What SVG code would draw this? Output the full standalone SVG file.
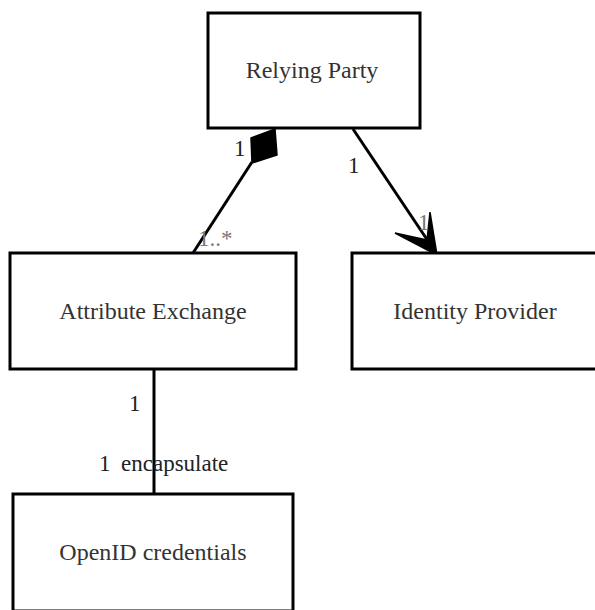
<svg xmlns="http://www.w3.org/2000/svg" width="595" height="610" viewBox="0 0 595 610">
  <style>
    .box { fill: #ffffff; stroke: #000000; stroke-width: 3; }
    text { font-family: 'Liberation Serif', 'Times New Roman', 'DejaVu Serif', serif; }
    .name { font-size: 24px; fill: #333333; text-anchor: middle; }
    .mult { font-size: 23px; fill: #222222; }
    .faint { fill: #777777; }
    .link { fill: none; stroke: #000000; stroke-width: 3; }
    .head { fill: #000000; stroke: #000000; stroke-width: 1.5; stroke-linejoin: miter; }
  </style>
  <rect width="595" height="610" fill="#ffffff"/>

  <g id="connectors">
    <!-- composition: Relying Party to Attribute Exchange -->
    <line class="link" x1="252" y1="162" x2="193" y2="253"/>
    <polygon class="head" points="251,138 275,129 277,155 252,163"/>
    <!-- association: Relying Party to Identity Provider -->
    <line class="link" x1="353" y1="129" x2="428" y2="241"/>
    <polygon class="head" points="437,255 395,233 427,240 430,212"/>
    <!-- encapsulate: Attribute Exchange to OpenID credentials -->
    <line class="link" x1="154" y1="369" x2="154" y2="494"/>
  </g>

  <g id="relying-party">
    <rect class="box" x="208" y="13" width="212" height="115"/>
    <text class="name" x="312" y="78">Relying Party</text>
  </g>

  <g id="attribute-exchange">
    <rect class="box" x="10" y="253" width="286" height="116"/>
    <text class="name" x="153" y="319">Attribute Exchange</text>
  </g>

  <g id="identity-provider">
    <rect class="box" x="352" y="253" width="260" height="116"/>
    <text class="name" x="475" y="319">Identity Provider</text>
  </g>

  <g id="openid-credentials">
    <rect class="box" x="13" y="494" width="280" height="117"/>
    <text class="name" x="153" y="560">OpenID credentials</text>
  </g>

  <g id="labels">
    <text class="mult" x="234" y="156">1</text>
    <text class="mult faint" x="198" y="246">1..*</text>
    <text class="mult" x="348" y="173">1</text>
    <text class="mult faint" x="418" y="230">1</text>
    <text class="mult" x="129" y="411">1</text>
    <text class="mult" x="99" y="471">1</text>
    <text class="mult" x="121" y="471">encapsulate</text>
  </g>
</svg>
